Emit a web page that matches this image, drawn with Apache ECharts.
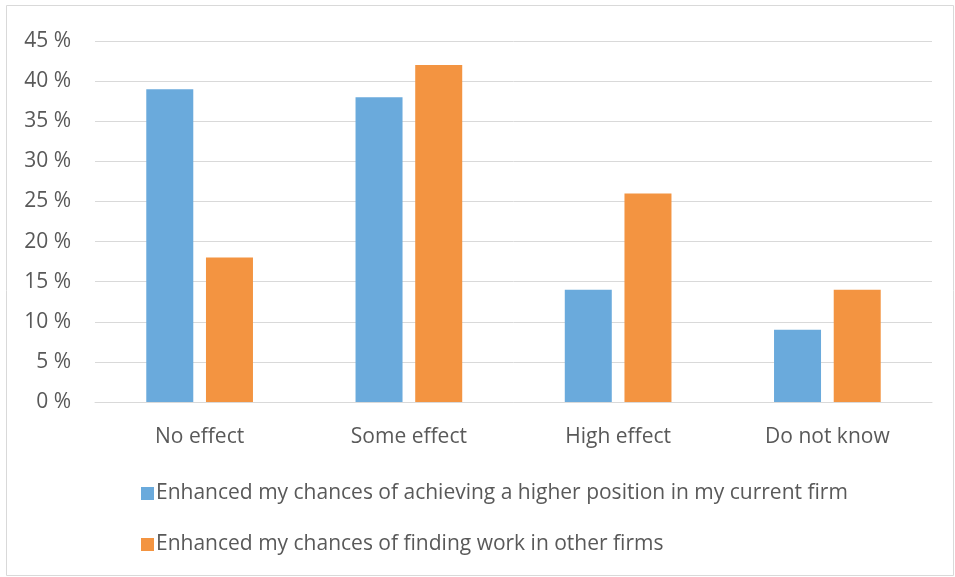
<!DOCTYPE html>
<html>
<head>
<meta charset="utf-8">
<script src="https://cdn.jsdelivr.net/npm/echarts@6/dist/echarts.min.js"></script>
<style>
  html, body { margin: 0; padding: 0; background: #fff; }
  #chart { width: 955px; height: 577px; }
</style>
</head>
<body>
<div id="chart"></div>
<script>
const categories = ['No effect', 'Some effect', 'High effect', 'Do not know'];
const higherPosition = [39, 38, 14, 9];
const otherFirms = [18, 42, 26, 14];
const seriesNames = [
    'Enhanced my chances of achieving a higher position in my current firm',
    'Enhanced my chances of finding work in other firms'
];

const fontFamily = '"Open Sans", Lato, sans-serif';
const textColor = '#595959';

const chart = echarts.init(document.getElementById('chart'));

chart.setOption({
    animation: false,
    textStyle: { fontFamily: fontFamily },
    graphic: [{
        type: 'rect',
        shape: { x: 6.5, y: 5.5, width: 947, height: 570 },
        style: { fill: 'none', stroke: '#d9d9d9', lineWidth: 1 },
        silent: true
    }],
    grid: {
        left: 95,
        right: 23,
        top: 41,
        bottom: 175,
        containLabel: false
    },
    legend: {
        orient: 'vertical',
        left: 136,
        top: 478,
        itemWidth: 13,
        itemHeight: 13,
        itemGap: 30,
        icon: 'rect',
        textStyle: { fontSize: 21, color: textColor, fontFamily: fontFamily, padding: [0, 0, 0, -3] },
        data: seriesNames
    },
    xAxis: {
        type: 'category',
        data: categories,
        axisLine: { lineStyle: { color: '#d9d9d9', width: 1 } },
        axisTick: { show: false },
        axisLabel: { fontSize: 21, color: textColor, margin: 25 }
    },
    yAxis: {
        type: 'value',
        min: 0,
        max: 45,
        interval: 5,
        axisLine: { show: false },
        axisTick: { show: false },
        splitLine: { lineStyle: { color: '#d9d9d9', width: 1 } },
        axisLabel: {
            fontSize: 21,
            color: textColor,
            margin: 24,
            formatter: v => v + ' %'
        }
    },
    series: [
        {
            name: seriesNames[0],
            type: 'bar',
            data: higherPosition,
            barWidth: 47,
            barGap: '27%',
            itemStyle: { color: '#6aaadc' }
        },
        {
            name: seriesNames[1],
            type: 'bar',
            data: otherFirms,
            barWidth: 47,
            itemStyle: { color: '#f39441' }
        }
    ]
});
</script>
</body>
</html>
